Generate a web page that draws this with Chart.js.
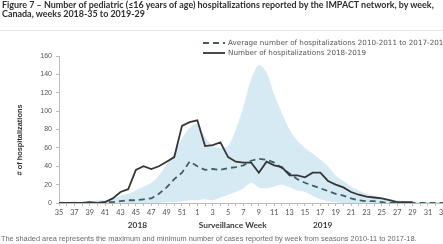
<!DOCTYPE html>
<html>
<head>
<meta charset="utf-8">
<script src="https://cdn.jsdelivr.net/npm/chart.js@4.4.0/dist/chart.umd.min.js"></script>
<style>
  html, body { margin: 0; padding: 0; width: 443px; height: 244px; overflow: hidden; background: #fff; }
  #title { position: absolute; left: 2px; top: 1px; font: bold 8.95px Lato, sans-serif; line-height: 8.8px; color: #2e2e2e; white-space: nowrap; }
  #rule { position: absolute; left: 0; top: 30px; width: 443px; height: 1px; background: #e4e4e4; }
  #wrap { position: absolute; left: 0; top: 0; width: 460px; height: 244px; }
  #note { position: absolute; left: 1px; top: 234px; font: 7.4px "Liberation Sans", sans-serif; color: #6a6a6a; white-space: nowrap; }
</style>
</head>
<body>
<div id="wrap"><canvas id="chart" width="460" height="244"></canvas></div>
<div id="title">Figure 7 – Number of pediatric (≤16 years of age) hospitalizations reported by the IMPACT network, by week,<br>Canada, weeks 2018-35 to 2019-29</div>
<div id="rule"></div>
<div id="note">The shaded area represents the maximum and minimum number of cases reported by week from seasons 2010-11 to 2017-18.</div>

<script>
// ── Data ───────────────────────────────────────────────────────────────────
const weeks = [
  "35", "36", "37", "38", "39", "40", "41", "42", "43", "44", "45", "46", "47", "48", "49", "50", "51", "52",
  "1", "2", "3", "4", "5", "6", "7", "8", "9", "10", "11", "12", "13", "14", "15", "16", "17",
  "18", "19", "20", "21", "22", "23", "24", "25", "26", "27", "28", "29", "30", "31", "32", "33", "34",
];

// Number of hospitalizations 2018-2019
const hosp2018 = [
  0, 0, 0, 0, 1, 0, 1, 5, 12, 15, 36, 40, 37, 40, 45, 50, 84, 88,
  90, 62, 63, 66, 50, 45, 44, 44, 33, 45, 41, 39, 30, 30, 28, 33, 33,
  24, 20, 17, 12, 9, 7, 6, 5, 3, 1, 1, 1, null, null, null, null, null,
];

// Average number of hospitalizations 2010-2011 to 2017-2018
const avgHosp = [
  0, 0, 0, 0, 0, 0, 1, 1, 2, 3, 3, 4, 5, 10, 17, 26, 33, 45,
  40, 36, 37, 36, 38, 39, 41, 46, 48, 47, 44, 38, 32, 26, 22, 19, 16,
  13, 10, 8, 5, 3, 2, 2, 1, 0, 0, 0, 0, 0, 0, 0, 0, 0,
];

// Shaded range: weekly max / min, seasons 2010-11 to 2017-18
const rangeMax = [
  2, 1, 2, 1, 2, 3, 3, 5, 8, 10, 14, 18, 22, 30, 42, 55, 70, 82,
  86, 72, 62, 60, 62, 80, 105, 135, 150, 142, 118, 98, 80, 68, 60, 54, 47,
  40, 30, 24, 18, 14, 10, 8, 6, 4, 3, 2, 2, 1, 1, 1, 1, 1,
];
const rangeMin = [
  0, 0, 0, 0, 0, 0, 0, 0, 0, 0, 0, 0, 0, 0, 1, 1, 2, 3,
  3, 4, 3, 6, 9, 12, 16, 22, 17, 16, 18, 20, 17, 14, 12, 8, 4,
  2, 1, 0, 0, 0, 0, 0, 0, 0, 0, 0, 0, 0, 0, 0, 0, 0,
];

const yTicks = [0, 20, 40, 60, 80, 100, 120, 140, 160];

// ── Theme ──────────────────────────────────────────────────────────────────
const COLORS = {
  solid: "#363636",
  dashed: "#3f5e6a",
  band: "#d5eaf3",
  axis: "#bcbcbc",
  tick: "#555",
  text: "#555",
};
const DASH = [6, 4];

// ── Extra text: legend, axis titles, year labels ───────────────────────────
const decorations = {
  id: "decorations",
  afterDraw(chart) {
    const ctx = chart.ctx;
    const xs = chart.scales.x;
    ctx.save();

    // legend
    const rows = [
      { y: 43, dash: DASH, color: COLORS.dashed, text: "Average number of hospitalizations 2010-2011 to 2017-2018" },
      { y: 53, dash: [], color: COLORS.solid, text: "Number of hospitalizations 2018-2019" },
    ];
    ctx.font = "7.2px 'DejaVu Sans', sans-serif";
    ctx.textBaseline = "middle";
    rows.forEach(r => {
      ctx.setLineDash(r.dash);
      ctx.strokeStyle = r.color;
      ctx.lineWidth = 1.8;
      ctx.beginPath();
      ctx.moveTo(203, r.y);
      ctx.lineTo(225, r.y);
      ctx.stroke();
      ctx.fillStyle = COLORS.text;
      ctx.fillText(r.text, 228, r.y);
    });
    ctx.setLineDash([]);

    // y title
    ctx.save();
    ctx.translate(20, 140);
    ctx.rotate(-Math.PI / 2);
    ctx.textAlign = "center";
    ctx.font = "bold 7.4px 'Liberation Sans', Arial, sans-serif";
    ctx.fillStyle = "#333";
    ctx.fillText("# of hospitalizations", 0, 0);
    ctx.restore();

    // x title + years
    ctx.textAlign = "center";
    ctx.font = "bold 8.3px Lato, sans-serif";
    ctx.fillStyle = "#3a3a3a";
    ctx.fillText("2018", xs.getPixelForValue(10.2), 225);
    ctx.fillText("Surveillance Week", xs.getPixelForValue(22.6), 225);
    ctx.fillText("2019", xs.getPixelForValue(34.3), 225);

    ctx.restore();
  },
};

// ── Chart ──────────────────────────────────────────────────────────────────
new Chart(document.getElementById("chart"), {
  type: "line",
  data: {
    labels: weeks,
    datasets: [
      {
        label: "Number of hospitalizations 2018-2019",
        data: hosp2018,
        borderColor: COLORS.solid,
        borderWidth: 1.8,
        pointRadius: 0,
        tension: 0,
        fill: false,
        spanGaps: false,
      },
      {
        label: "Average number of hospitalizations 2010-2011 to 2017-2018",
        data: avgHosp,
        borderColor: COLORS.dashed,
        borderWidth: 1.8,
        borderDash: DASH,
        pointRadius: 0,
        tension: 0,
        fill: false,
      },
      {
        label: "max",
        data: rangeMax,
        borderWidth: 0,
        borderColor: "transparent",
        backgroundColor: COLORS.band,
        pointRadius: 0,
        tension: 0.3,
        fill: { target: "+1" },
      },
      {
        label: "min",
        data: rangeMin,
        borderWidth: 0,
        borderColor: "transparent",
        pointRadius: 0,
        tension: 0.3,
        fill: false,
      },
    ],
  },
  options: {
    responsive: false,
    animation: false,
    events: [],
    layout: { padding: { top: 56, right: 9, left: 0, bottom: 0 } },
    plugins: {
      legend: { display: false },
      title: { display: false },
      tooltip: { enabled: false },
    },
    scales: {
      x: {
        offset: false,
        grid: { display: true, drawOnChartArea: false, drawTicks: true, tickLength: 3, color: COLORS.axis },
        border: { color: COLORS.axis },
        ticks: {
          autoSkip: false,
          maxRotation: 0,
          padding: 2,
          color: COLORS.tick,
          font: { family: "Lato, sans-serif", size: 7.3 },
          callback: (v, i) => (i % 2 === 0 ? weeks[i] : ""),
        },
        afterFit: s => { s.height = 41; },
      },
      y: {
        min: 0,
        max: 160,
        afterBuildTicks: s => { s.ticks = yTicks.map(v => ({ value: v })); },
        grid: { display: true, drawOnChartArea: false, drawTicks: true, tickLength: 3, color: COLORS.axis },
        border: { color: COLORS.axis },
        ticks: {
          padding: 4,
          color: COLORS.tick,
          font: { family: "'Liberation Sans', Arial, sans-serif", size: 7 },
        },
        afterFit: s => { s.width = 59; },
      },
    },
  },
  plugins: [decorations],
});
</script>
</body>
</html>
